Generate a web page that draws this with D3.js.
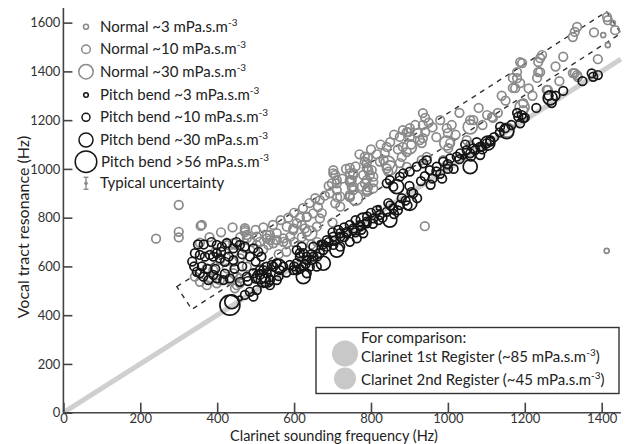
<!DOCTYPE html>
<html><head><meta charset="utf-8">
<script src="https://cdn.jsdelivr.net/npm/d3@7"></script>
<style>body{margin:0;background:#fff}svg{display:block}text{font-family:Lato,"Open Sans",sans-serif}</style>
</head><body><svg id="c" width="630" height="444"></svg>
<script>
// ---- data (Hz) ----
const xTicks = [0,200,400,600,800,1000,1200,1400];
const yTicks = [0,200,400,600,800,1000,1200,1400,1600];
const bandCorners = [[295,517],[1413,1645],[1450,1556],[334,424]];
const normal3 = [[1413,664],[1404,1549],[1416,1508],[1429,1598]];
const normal10 = [[241,714],[300,852],[300,742],[300,719],[357,766],[355,697],[360,770],[425,697],[425,687],[442,695],[472,741],[472,757],[477,716],[373,592],[381,551],[355,537],[399,531],[407,544],[451,558],[459,531],[446,510],[442,655],[459,634],[472,675],[390,585],[425,592],[442,572],[433,544],[451,523],[459,551],[477,599],[442,619],[407,626],[373,523],[342,558],
[503,688],[511,701],[529,715],[537,729],[555,708],[572,715],[581,695],[598,756],[620,770],[633,742],[472,749],[477,729],[503,722],[529,729],[537,708],[546,695],[572,701],[590,722],[598,749],[607,777],[581,763],[555,736],[533,688],[633,804],[650,818],[667,797],[659,763],[628,756],[623,839],[633,802],[667,872],[662,843],[672,819],
[693,900],[711,913],[720,886],[707,859],[720,845],[745,886],[754,913],[745,954],[754,975],[711,954],[702,982],[784,941],[789,913],
[702,995],[707,975],[711,941],[745,982],[750,954],[754,927],[745,893],[784,1050],[784,1030],[793,995],[780,975],[789,954],[776,927],[789,906],[806,920],[802,995],[806,968],[823,1030],[841,1002],[845,989],
[698,941],[712,884],[745,946],[750,925],[745,884],[789,1004],[797,975],[806,946],[792,925],[754,983],[745,1004],[792,1045],[789,1024],[841,1090],[836,1065],[833,1036],
[875,1131],[883,1090],[893,1069],[901,1167],[893,1151],[901,1131],[922,1147],[927,1118],[935,1229],[941,1209],[935,1180],[941,1151],[935,1126],[932,1106],[883,1159],[897,1151],[880,1049],[875,1024],[893,1008],[945,1049],[932,1036],[988,1036],[997,1016],[997,1167],[1000,1147],[1006,1106],[1001,1085],
[1049,1118],[1058,1097],[1058,1200],[1066,1200],[1102,1221],[1115,1213],[1117,1209],
[1169,1373],[1169,1332],[1175,1331],[1180,1372],[1188,1352],[1180,1397],[1188,1438],[1193,1434],[1232,1373],[1235,1397],[1240,1397],[1235,1438],[1240,1454],[1245,1467],[1257,1324],[1260,1324],[1196,1270],[1196,1241],[1325,1393],[1336,1385],[1330,1393],[1338,1377],[1325,1541],[1330,1562],[1336,1582],[1414,1623],[1416,1610],[1435,1569],[940,765],
[500,750],[520,760],[545,770],[565,790],[585,800],[600,820],[615,800],[640,860],[655,880],[680,890],[690,930],[725,960],[735,1000],[760,1010],[770,1060],[800,1080],[815,1060],[825,1100],[850,1110],[860,1140],[870,1080],[905,1100],[915,1180],[950,1190],[960,1170],[970,1130],[980,1200],[1010,1180],[1020,1140],[1030,1230],[1080,1250],[1090,1180],[1130,1230],[1140,1300],[1150,1280],[1210,1330],[1220,1300],[1280,1420],[1290,1360],[1300,1460],[1380,1560],[1390,1450],
[380,720],[410,740],[440,760],[395,660],[460,720],[490,700],[520,670],[560,650],[580,660],[600,700],[660,700],[700,780],[620,720],[645,690]];
const normal30 = [[997,1106],[844,1024],[849,1004],[1058,1172],[1154,1159],[641,736],[1193,1254],[760,880],[900,1090]];
const bend3 = [[459,469],[1040,1050],[667,695],[820,840]];
const bend10 = [[342,654],[355,647],[368,640],[381,647],[399,688],[412,681],[425,695],[442,674],[459,688],[472,681],[494,674],[507,660],[399,654],[390,640],[407,633],[420,619],[442,626],
[347,578],[355,572],[364,558],[377,544],[390,565],[399,551],[416,544],[433,551],[459,537],[477,558],[494,572],[511,585],[529,599],[542,606],
[472,483],[485,496],[494,476],[503,503],[537,523],[524,551],[511,565],
[520,585],[529,572],[546,599],[555,613],[563,585],[537,544],[555,544],
[572,599],[589,606],[598,585],[607,613],[615,640],[624,654],[633,626],[641,599],[650,640],
[607,667],[615,654],[620,681],[633,640],[646,626],[624,599],[607,585],[633,572],[659,599],[667,654],[676,667],[685,681],[702,688],
[650,681],[685,708],[702,722],[720,736],[737,742],[754,756],[772,770],[789,784],[806,797],[823,811],[841,824],[858,838],[875,852],
[720,722],[737,736],[754,749],[772,763],[789,777],[720,681],[745,701],[763,715],[780,736],
[700,740],[730,760],[760,740],[800,820],[820,790],[850,850],[870,830],[890,870],
[841,941],[849,954],[858,927],[875,968],[884,982],[901,989],[919,1009],[936,1023],[945,1036],[953,995],[971,1009],[988,1030],[1006,1043],[1023,1050],[1032,1064],[1049,1077],[1066,1084],[1084,1091],[1101,1105],[1110,1112],[1084,1057],
[1110,1118],[1088,1091],[1071,1077],[1058,1064],
[910,900],[930,950],[960,960],[980,980],[1000,1000],[900,930],
[1188,1187],[1196,1208],[1192,1221],[1136,1173],[1149,1167],[1183,1214],[1262,1300],
[1378,1378],[1374,1392],
[560,560],[580,575],[600,600],[615,590],[630,610],[645,650],[660,640],[675,690],[690,700],[705,705],[715,750],[730,720],[745,770],[760,790],[775,750],[790,805],[805,775],[815,830],[830,800],[845,860],[860,815],[880,880],[895,850],[905,905],[920,880],[940,970],[955,935],[970,990],[985,960],[1000,1020],[1015,1000],[1030,1040],[1045,1100],[1060,1050],[1075,1110],[1090,1080],[1120,1130],[1135,1150],[1165,1180],[1180,1230],[1200,1210],[1230,1250],[1270,1270],[1280,1300],[1300,1320],[1350,1360],[1390,1385],
[335,620],[350,690],[365,690],[385,700],[410,660],[430,640],[450,700],[465,650],[485,640],[500,620],[515,640],[360,600],[375,590],[395,590],[420,570],[445,590],[465,600],[480,540],[500,550],[340,600]];
const bend30 = [[438,455],[520,544],[529,544],[511,558],[624,558],[676,613],[711,667],[849,790],[901,859],[867,927],[1058,1009],[1153,1153],[1266,1291],[1104,1106],[560,600],[780,790]];
const bend56 = [[433,441]];
const legendLabels = ["Normal ~3 mPa.s.m","Normal ~10 mPa.s.m","Normal ~30 mPa.s.m","Pitch bend ~3 mPa.s.m","Pitch bend ~10 mPa.s.m","Pitch bend ~30 mPa.s.m","Pitch bend >56 mPa.s.m"];
const compLabels = ["Clarinet 1st Register (~85 mPa.s.m","Clarinet 2nd Register (~45 mPa.s.m"];

// ---- drawing ----
const svg = d3.select("#c");
const x = d3.scaleLinear().domain([0,1450]).range([63.4,620.9]);
const y = d3.scaleLinear().domain([0,1660]).range([412.7,8]);
const GRAY = "#8a8a8a", BLACK = "#151515";

svg.append("line").attr("x1",x(0)).attr("y1",y(0)).attr("x2",x(1450)).attr("y2",y(1450))
  .attr("stroke","#cfcfcf").attr("stroke-width",5);

svg.append("path").attr("d", d3.line().x(d=>x(d[0])).y(d=>y(d[1]))(bandCorners)+"Z")
  .attr("fill","none").attr("stroke","#333").attr("stroke-width",1.4).attr("stroke-dasharray","5,5");

const series = [
  {data:normal3, r:2.5, c:GRAY},{data:normal10, r:4.3, c:GRAY},{data:normal30, r:7, c:GRAY},
  {data:bend3, r:2.3, c:BLACK},{data:bend10, r:4.3, c:BLACK},{data:bend30, r:7, c:BLACK},{data:bend56, r:10, c:BLACK}
];
series.forEach(s=>{
  svg.append("g").selectAll("circle").data(s.data).join("circle")
    .attr("cx",d=>x(d[0])).attr("cy",d=>y(d[1])).attr("r",s.r)
    .attr("fill","none").attr("stroke",s.c).attr("stroke-width",1.7);
});

const xa = svg.append("g").attr("transform",`translate(0,${y(0)})`)
  .call(d3.axisTop(x).tickValues(xTicks).tickSize(10).tickFormat(d3.format("d")));
xa.selectAll("text").attr("y",1).attr("dy","0.71em");
const ya = svg.append("g").attr("transform",`translate(${x(0)},0)`)
  .call(d3.axisRight(y).tickValues(yTicks).tickSize(9).tickFormat(d3.format("d")));
ya.selectAll("text").attr("x",-3).attr("text-anchor","end");
[xa,ya].forEach(a=>{
  a.select(".domain").attr("stroke","#444").attr("stroke-width",1.6);
  a.selectAll(".tick line").attr("stroke","#444").attr("stroke-width",1.6);
  a.selectAll("text").attr("font-size",13).attr("fill","#333").style("font-family","Lato");
});
xa.select(".domain").attr("d",`M${x(0)},0H${x(1450)}`);
ya.select(".domain").attr("d",`M0,${y(0)}V${y(1660)}`);

svg.append("text").attr("x",334).attr("y",440.5).attr("text-anchor","middle")
  .attr("font-size",14.5).attr("fill","#222").text("Clarinet sounding frequency (Hz)");
svg.append("text").attr("transform","translate(29,227) rotate(-90)").attr("text-anchor","middle")
  .attr("font-size",16).attr("fill","#222").text("Vocal tract resonance (Hz)");

const lg = svg.append("g");
const rowY = [26.7,49.3,71.7,95,117.3,140,161.7];
series.forEach((s,i)=>{
  lg.append("circle").attr("cx",86).attr("cy",rowY[i]).attr("r",[2.5,4.3,7.2,2.3,4,7,10.8][i])
    .attr("fill","#fff").attr("stroke",s.c).attr("stroke-width",1.5);
  const t = lg.append("text").attr("x",i===6?101:100).attr("y",rowY[i]+5).attr("font-size",15).attr("fill","#222");
  t.append("tspan").text(legendLabels[i]);
  t.append("tspan").attr("dy",-6).attr("font-size",10).text("-3");
});
const uy = 183.3;
lg.append("line").attr("x1",86).attr("x2",86).attr("y1",uy-6).attr("y2",uy+6).attr("stroke",GRAY).attr("stroke-width",1.4);
lg.append("line").attr("x1",83.5).attr("x2",88.5).attr("y1",uy-6).attr("y2",uy-6).attr("stroke",GRAY).attr("stroke-width",1.4);
lg.append("line").attr("x1",83.5).attr("x2",88.5).attr("y1",uy+6).attr("y2",uy+6).attr("stroke",GRAY).attr("stroke-width",1.4);
lg.append("circle").attr("cx",86).attr("cy",uy).attr("r",1.8).attr("fill",GRAY);
lg.append("text").attr("x",100).attr("y",uy+5).attr("font-size",15).attr("fill","#222").text("Typical uncertainty");

const cb = svg.append("g");
cb.append("rect").attr("x",316).attr("y",327.5).attr("width",303).attr("height",66)
  .attr("fill","#fff").attr("stroke","#333").attr("stroke-width",1.4);
cb.append("text").attr("x",361).attr("y",343).attr("font-size",15).attr("fill","#222").text("For comparison:");
cb.append("circle").attr("cx",345).attr("cy",353.5).attr("r",13).attr("fill","#c8c8c8");
cb.append("circle").attr("cx",345).attr("cy",378.5).attr("r",11).attr("fill","#c8c8c8");
[362,385].forEach((yy,i)=>{
  const t = cb.append("text").attr("x",361).attr("y",yy).attr("font-size",15).attr("fill","#222");
  t.append("tspan").text(compLabels[i]);
  t.append("tspan").attr("dy",-6).attr("font-size",10).text("-3");
  t.append("tspan").attr("dy",6).text(")");
});
</script></body></html>
